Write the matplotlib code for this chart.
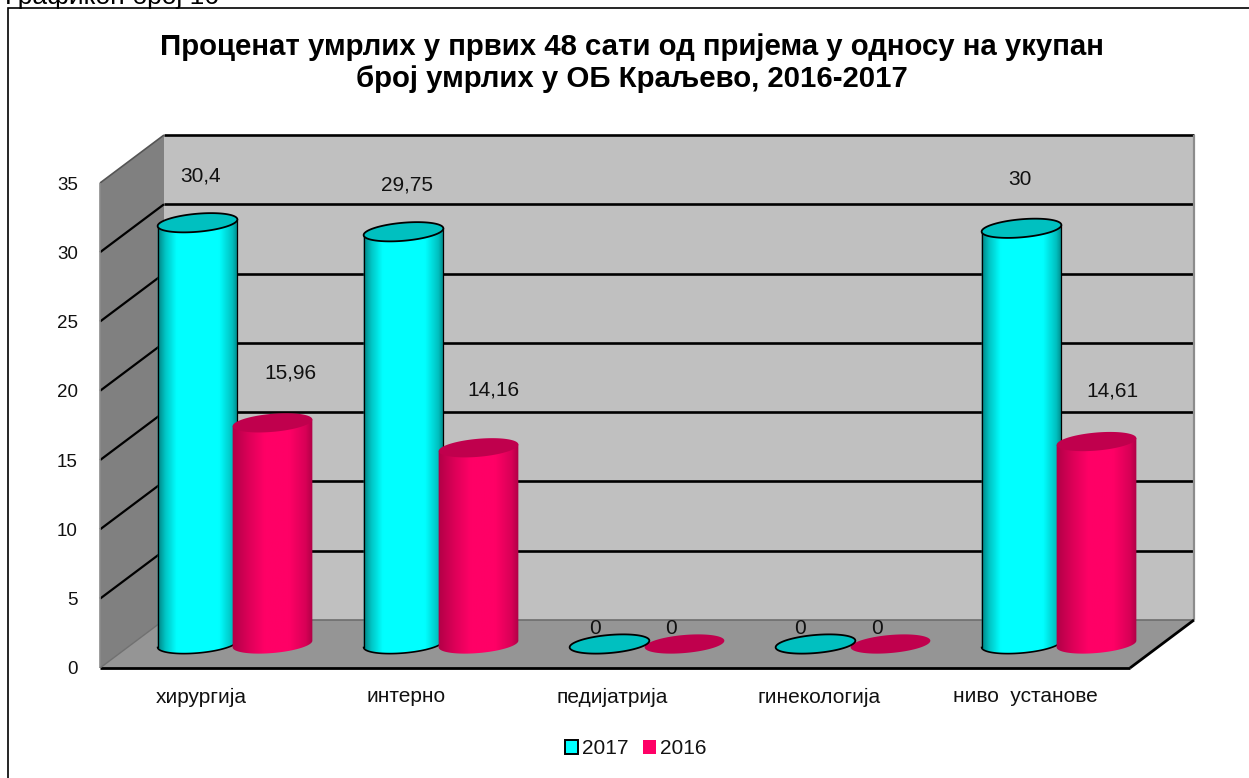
import numpy as np
import matplotlib
matplotlib.use("Agg")
import matplotlib.pyplot as plt
from matplotlib.colors import LinearSegmentedColormap
from matplotlib.patches import Patch, Polygon, Rectangle

plt.rcParams["font.family"] = ["Liberation Sans", "DejaVu Sans"]

categories = ["хирургија", "интерно", "педијатрија", "гинекологија", "ниво  установе"]
years = ["2017", "2016"]
values_2017 = [30.4, 29.75, 0, 0, 30]
values_2016 = [15.96, 14.16, 0, 0, 14.61]
labels_2017 = ["30,4", "29,75", "0", "0", "30"]
labels_2016 = ["15,96", "14,16", "0", "0", "14,61"]
y_ticks = [0, 5, 10, 15, 20, 25, 30, 35]
title = "Проценат умрлих у првих 48 сати од пријема у односу на укупан\nброј умрлих у ОБ Краљево, 2016-2017"
caption = "Графикон број 16"

W, H = 1249, 778
fig = plt.figure(figsize=(W / 100, H / 100), dpi=100, facecolor="white")

# Front plane of the 3D box, in pixels
LEFT, RIGHT, BOTTOM, TOP = 100, 1130, 668, 183
ax = fig.add_axes([LEFT / W, 1 - BOTTOM / H, (RIGHT - LEFT) / W, (BOTTOM - TOP) / H])
ax.set_xlim(0, len(categories))
ax.set_ylim(0, 35)
ax.axis("off")

PX_X = len(categories) / (RIGHT - LEFT)   # category units per pixel
PX_Y = 35 / (BOTTOM - TOP)                # value units per pixel
DEPTH_X, DEPTH_Y = 64 * PX_X, 48 * PX_Y
N = len(categories)


def box_point(x, v, depth):
    return (x + depth * DEPTH_X, v + depth * DEPTH_Y)


def add_poly(points, color, z=1):
    ax.add_patch(Polygon(points, closed=True, facecolor=color, edgecolor="none",
                         zorder=z, clip_on=False))


def box_line(p, q, color="black", lw=1.9, z=2):
    ax.plot([p[0], q[0]], [p[1], q[1]], color=color, lw=lw, zorder=z,
            clip_on=False, solid_capstyle="butt")


# Walls and floor
add_poly([box_point(0, 0, 1), box_point(N, 0, 1), box_point(N, 35, 1), box_point(0, 35, 1)], "#C0C0C0")
add_poly([box_point(0, 0, 0), box_point(0, 0, 1), box_point(0, 35, 1), box_point(0, 35, 0)], "#808080")
add_poly([box_point(0, 0, 0), box_point(N, 0, 0), box_point(N, 0, 1), box_point(0, 0, 1)], "#959595")

for tick in y_ticks[1:]:
    box_line(box_point(0, tick, 1), box_point(N, tick, 1))
    if tick < 35:
        box_line(box_point(0, tick, 0), box_point(0, tick, 1), lw=1.6)
box_line(box_point(0, 35, 0), box_point(0, 35, 1), color="#555555", lw=1.2)
box_line(box_point(0, 0, 0), box_point(0, 35, 0), color="#8c8c8c", lw=1.2)
box_line(box_point(N, 0, 1), box_point(N, 35, 1), color="#8c8c8c", lw=1.6)
box_line(box_point(0, 0, 1), box_point(N, 0, 1), color="#6e6e6e", lw=1.2)
box_line(box_point(0, 0, 0), box_point(N, 0, 0), lw=2.0)
box_line(box_point(N, 0, 0), box_point(N, 0, 1), lw=2.0)
box_line(box_point(0, 0, 0), box_point(0, 0, 1), color="#707070", lw=1.0)

# Cylinder geometry, in pixels
BAR_SHIFT = 37.5
SEMI_A, SEMI_B = 40.0, 9.0
TILT = np.deg2rad(5)


def ellipse_points(cx, v, t):
    """Points of a tilted cap centred on category position cx and value v."""
    px = SEMI_A * np.cos(t) * np.cos(TILT) - SEMI_B * np.sin(t) * np.sin(TILT)
    py = SEMI_A * np.cos(t) * np.sin(TILT) + SEMI_B * np.sin(t) * np.cos(TILT)
    return cx + px * PX_X, v + py * PX_Y


def cylinder(cx, value, cmap, cap_color, edge, z):
    base = 0.5 * DEPTH_Y
    top = base + value
    centre = cx + 0.5 * DEPTH_X
    t_cap = np.linspace(0, 2 * np.pi, 120)
    if value > 0:
        t_low = np.linspace(np.pi, 2 * np.pi, 60)
        bx, by = ellipse_points(centre, base, t_low)
        tx, ty = ellipse_points(centre, top, np.array([0.0, np.pi]))
        verts = [(tx[1], ty[1])] + list(zip(bx, by)) + [(tx[0], ty[0]), (tx[1], ty[1])]
        body = Polygon(verts, closed=True, facecolor="none", edgecolor="none")
        ax.add_patch(body)
        body.set_clip_on(False)
        half = SEMI_A * PX_X * 1.02
        img = ax.imshow(np.linspace(0, 1, 256).reshape(1, -1), cmap=cmap, aspect="auto",
                        extent=(centre - half, centre + half, min(by) - 0.2, max(ty) + 0.2),
                        zorder=z)
        img.set_clip_box(fig.bbox)
        img.set_clip_path(body)
        if edge != "none":
            ax.plot(bx, by, color=edge, lw=1.2, zorder=z + 0.1, clip_on=False)
            ax.plot([tx[1], bx[0]], [ty[1], by[0]], color=edge, lw=0.9, zorder=z + 0.1, clip_on=False)
            ax.plot([tx[0], bx[-1]], [ty[0], by[-1]], color=edge, lw=0.9, zorder=z + 0.1, clip_on=False)
    cx_pts, cy_pts = ellipse_points(centre, top, t_cap)
    ax.fill(cx_pts, cy_pts, facecolor=cap_color, edgecolor=edge, lw=1.3 if edge != "none" else 0,
            zorder=z + 0.2, clip_on=False)
    ax.set_xlim(0, N)
    ax.set_ylim(0, 35)


cyan_map = LinearSegmentedColormap.from_list(
    "cyan_shade", [(0, "#007c7c"), (0.1, "#00c4c4"), (0.24, "#00FFFF"), (0.76, "#00FFFF"),
                   (0.92, "#00c0c0"), (1, "#007c7c")])
pink_map = LinearSegmentedColormap.from_list(
    "pink_shade", [(0, "#b00046"), (0.2, "#dc0058"), (0.4, "#FF0066"), (0.7, "#FF0066"),
                   (0.9, "#d80056"), (1, "#a80043")])

label_shift_2017 = [(3, 47), (3, 47), (-15, 15), (-15, 15), (-2, 49)]
label_shift_2016 = [(18, 50), (15, 58), (-14, 15), (-14, 15), (16, 51)]

for i in range(N):
    mid = i + 0.5
    x_a = mid - BAR_SHIFT * PX_X
    x_b = mid + BAR_SHIFT * PX_X
    z_a = 6 if values_2017[i] == 0 else 4
    cylinder(x_a, values_2017[i], cyan_map, "#00C0C0", "black", z_a)
    cylinder(x_b, values_2016[i], pink_map, "#C0004D", "none", 5)
    for x0, val, txt, (dx, dy) in ((x_a, values_2017[i], labels_2017[i], label_shift_2017[i]),
                                   (x_b, values_2016[i], labels_2016[i], label_shift_2016[i])):
        ax.text(x0 + 0.5 * DEPTH_X + dx * PX_X, val + 0.5 * DEPTH_Y + dy * PX_Y, txt,
                ha="center", va="center", fontsize=15, color="#111111", zorder=8, clip_on=False)

# Value axis labels on the front edge
for tick in y_ticks:
    ax.text(-22 * PX_X, tick - 2 * PX_Y, str(tick), ha="right", va="center", fontsize=13.5,
            color="#111111", clip_on=False)

# Category labels
label_centres = [201.5, 406, 612.5, 819.5, 1025]
for name, px in zip(categories, label_centres):
    ax.text((px - LEFT) * PX_X, -29 * PX_Y, name, ha="center", va="center",
            fontsize=15, color="#111111", clip_on=False)

fig.text(632 / W, 1 - 63 / H, title, ha="center", va="center", fontsize=21.2,
         fontweight="bold", color="black", linespacing=1.2)

# Outer chart frame and the clipped caption above it
fig.add_artist(Rectangle((8 / W, -0.01), (W - 8 + 20) / W, 1 - 8 / H + 0.01, transform=fig.transFigure,
                         facecolor="none", edgecolor="black", lw=1.2))
fig.text(5 / W, 1 - 4 / H, caption, ha="left", va="baseline", fontsize=19, color="black")

handles = [Patch(facecolor="#00FFFF", edgecolor="black", lw=1.4),
           Patch(facecolor="#FF0066", edgecolor="none")]
fig.legend(handles, years, loc="center", bbox_to_anchor=(636 / W, 1 - 749 / H), ncols=2,
           frameon=False, fontsize=15, handlelength=0.62, handleheight=0.62,
           handletextpad=0.2, columnspacing=0.7, labelcolor="#111111")

fig.savefig("out.png", dpi=100)
